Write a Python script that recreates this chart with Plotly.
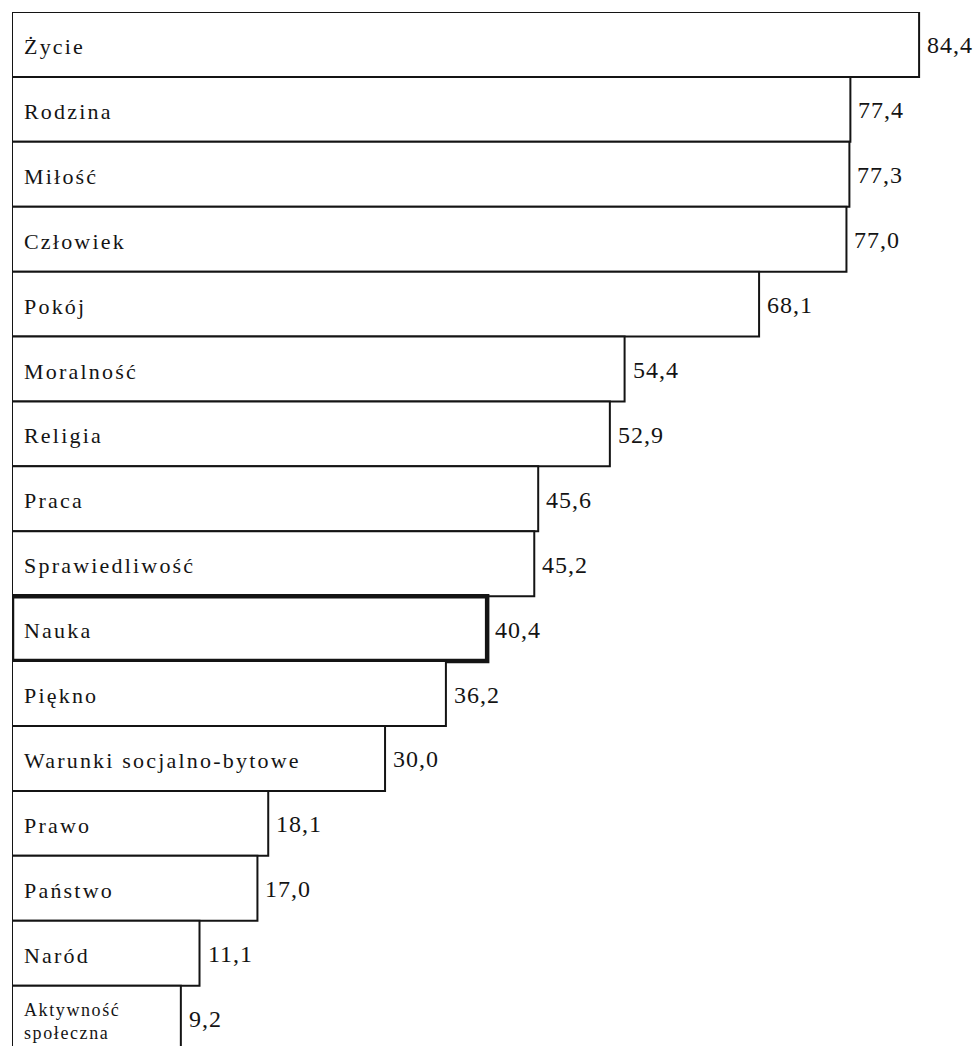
import plotly.graph_objects as go

# Values ranked from highest to lowest (percent of answers)
categories = [
    "Życie", "Rodzina", "Miłość", "Człowiek", "Pokój", "Moralność",
    "Religia", "Praca", "Sprawiedliwość", "Nauka", "Piękno",
    "Warunki socjalno-bytowe", "Prawo", "Państwo", "Naród",
    "Aktywność społeczna",
]
bar_labels = [
    "Życie", "Rodzina", "Miłość", "Człowiek", "Pokój", "Moralność",
    "Religia", "Praca", "Sprawiedliwość", "Nauka", "Piękno",
    "Warunki socjalno-bytowe", "Prawo", "Państwo", "Naród",
    "Aktywność<br>społeczna",
]
values = [84.4, 77.4, 77.3, 77.0, 68.1, 54.4, 52.9, 45.6, 45.2, 40.4,
          36.2, 30.0, 18.1, 17.0, 11.1, 9.2]
highlighted = "Nauka"

BAR_BASE = -8.0
INK = "#141414"
SERIF = "Liberation Serif, Times New Roman, serif"

line_widths = [4.5 if c == highlighted else 2 for c in categories]

fig = go.Figure()
fig.add_trace(go.Bar(
    y=categories,
    x=[v - BAR_BASE for v in values],
    base=BAR_BASE,
    orientation="h",
    marker=dict(color="white", line=dict(color=INK, width=line_widths)),
    cliponaxis=False,
    hoverinfo="skip",
    showlegend=False,
))

annotations = []
for cat, lab, v in zip(categories, bar_labels, values):
    small = "<br>" in lab
    annotations.append(dict(
        x=BAR_BASE, y=cat, xref="x", yref="y",
        text=lab, showarrow=False, xanchor="left", yanchor="middle",
        align="left", xshift=10, yshift=-3 if small else -2,
        font=dict(family=SERIF, size=18 if small else 22, color=INK),
    ))
    annotations.append(dict(
        x=v, y=cat, xref="x", yref="y",
        text=f"{v:.1f}".replace(".", ","), showarrow=False,
        xanchor="left", yanchor="middle", align="left",
        xshift=6, yshift=-1,
        font=dict(family=SERIF, size=24, color=INK),
    ))

fig.update_layout(
    width=978, height=1046,
    margin=dict(l=12, r=0, t=12, b=0),
    paper_bgcolor="white", plot_bgcolor="white",
    bargap=0,
    annotations=annotations,
    xaxis=dict(range=[BAR_BASE, 90.4], visible=False, fixedrange=True),
    yaxis=dict(type="category", categoryorder="array", categoryarray=categories,
               range=[15.43, -0.5], visible=False, fixedrange=True),
)

# Typewriter-like spacing of the printed labels
spacing_js = """
document.querySelectorAll('.annotation-text').forEach(function (t) {
  var sz = parseFloat(t.style.fontSize || '22');
  t.style.letterSpacing = (sz >= 24 ? 1.0 : (sz >= 22 ? 2.2 : 1.6)) + 'px';
});
"""

fig.write_html("out.html", config={"displayModeBar": False, "staticPlot": True},
               post_script=spacing_js)
